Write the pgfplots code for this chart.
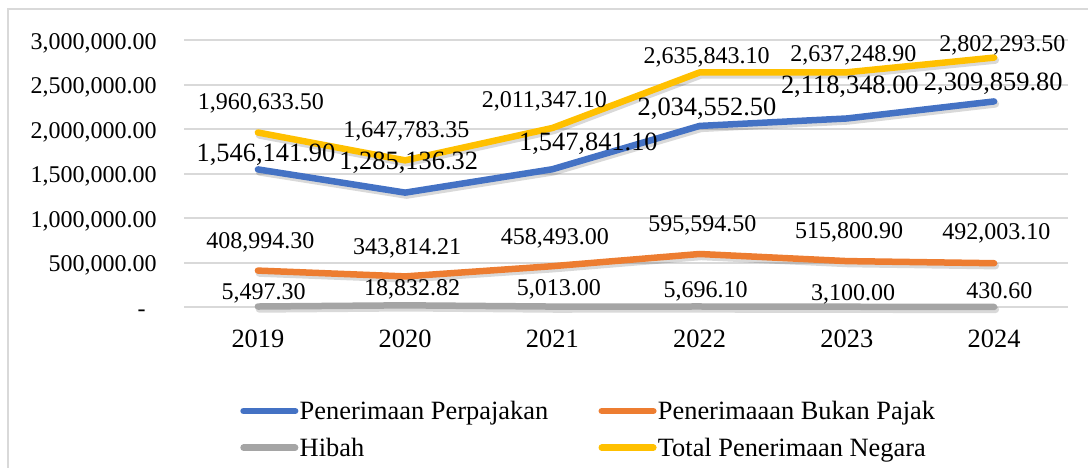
\documentclass[border=0pt]{standalone}
\usepackage{pgfplots}
\pgfplotsset{compat=1.18}
\usepackage{pgfplotstable}
\usepackage{fontspec}
\setmainfont{Liberation Serif}
\definecolor{cBlue}{HTML}{4472C4}
\definecolor{cOrange}{HTML}{ED7D31}
\definecolor{cGray}{HTML}{A5A5A5}
\definecolor{cGold}{HTML}{FFC000}
\definecolor{cGrid}{HTML}{D9D9D9}

\pgfplotstableread{
x y label dx dy
0 1546141.90 1,546,141.90 4.0 3.7
1 1285136.32 1,285,136.32 1.8 11.5
2 1547841.10 1,547,841.10 18.0 9.4
3 2034552.50 2,034,552.50 3.7 5.3
4 2118348.00 2,118,348.00 1.5 12.4
5 2309859.80 2,309,859.80 -0.4 5.5
}\tax

\pgfplotstableread{
x y label dx dy
0 408994.30 408,994.30 1.2 11.3
1 343814.21 343,814.21 1.0 10.9
2 458493.00 458,493.00 1.3 10.8
3 595594.50 595,594.50 1.4 11.4
4 515800.90 515,800.90 1.2 11.5
5 492003.10 492,003.10 1.2 11.8
}\nontax

\pgfplotstableread{
x y label dx dy
0 5497.30 5,497.30 2.8 3.5
1 18832.82 18,832.82 3.5 4.9
2 5013.00 5,013.00 3.3 5.5
3 5696.10 5,696.10 3.0 4.3
4 3100.00 3,100.00 3.2 3.2
5 430.60 430.60 2.7 4.2
}\hibah

\pgfplotstableread{
x y label dx dy
0 1960633.50 1,960,633.50 1.5 11.5
1 1647783.35 1,647,783.35 0.6 11.2
2 2011347.10 2,011,347.10 -4.0 10.3
3 2635843.10 2,635,843.10 3.5 4.7
4 2637248.90 2,637,248.90 3.3 5.2
5 2802293.50 2,802,293.50 4.2 3.2
}\total

\pgfplotsset{
  shadowline/.style={black, opacity=0.15, line width=3.6pt, line join=round, line cap=round, forget plot, xshift=0.7pt, yshift=-1.3pt},
  mainline/.style={#1, line width=3.25pt, line join=round, line cap=round, mark=none},
  lbl/.style={draw=none, forget plot, mark=none, point meta=explicit symbolic,
    visualization depends on={\thisrow{dx} \as \myDX},
    visualization depends on={\thisrow{dy} \as \myDY},
    nodes near coords,
    nodes near coords style={anchor=base, inner sep=0pt, xshift=\myDX pt, yshift=\myDY pt, text=black, font=#1}},
}

\begin{document}
\begin{tikzpicture}
\useasboundingbox (0,0) rectangle (544pt,233.5pt);
\draw[cGrid, line width=1pt] (4.2pt,-5pt) -- (4.2pt,229pt) -- (560pt,229pt);
\begin{axis}[
  at={(92.15pt,80pt)}, anchor=south west,
  scale only axis, width=441.7pt, height=133.5pt,
  xmin=-0.5, xmax=5.5, ymin=0, ymax=3000000,
  xtick={0,1,2,3,4,5}, xticklabels={2019,2020,2021,2022,2023,2024},
  ytick={0,500000,1000000,1500000,2000000,2500000,3000000},
  yticklabels={{-\kern5.5pt},{500,000.00},{1,000,000.00},{1,500,000.00},{2,000,000.00},{2,500,000.00},{3,000,000.00}},
  scaled y ticks=false,
  axis line style={draw=none},
  major tick length=0pt,
  ymajorgrids, grid style={cGrid, line width=1pt},
  xticklabel style={anchor=base, inner sep=0pt, yshift=-20pt, font=\fontsize{13.2}{15}\selectfont},
  yticklabel style={anchor=east, inner sep=0pt, xshift=-13.65pt, yshift=-1.4pt, text height=8pt, text depth=1.7pt, font=\fontsize{12}{14}\selectfont},
  clip=false,
  legend columns=2,
  legend style={
    at={(axis description cs:0.0634,-0.3457)}, anchor=north west,
    draw=none, fill=none, inner sep=0pt, outer sep=0pt,
    column sep=0.65pt, row sep=5.35pt,
    font=\fontsize{13.2}{15}\selectfont,
    cells={anchor=base west},
    nodes={inner sep=0pt, outer sep=0pt, text height=10pt, text depth=3pt, anchor=base west},
  },
  legend image code/.code={\draw[#1, line cap=round] (0pt,4.15pt) -- (25.8pt,4.15pt);},
]
\addplot[shadowline] table[x=x,y=y]{\tax};
\addplot[shadowline] table[x=x,y=y]{\nontax};
\addplot[shadowline] table[x=x,y=y]{\hibah};
\addplot[shadowline] table[x=x,y=y]{\total};

\addplot[mainline=cBlue] table[x=x,y=y]{\tax};
\addlegendentry{\makebox[148.75pt][l]{Penerimaan Perpajakan}}
\addplot[mainline=cOrange] table[x=x,y=y]{\nontax};
\addlegendentry{Penerimaaan Bukan Pajak}
\addplot[mainline=cGray] table[x=x,y=y]{\hibah};
\addlegendentry{\makebox[148.75pt][l]{Hibah}}
\addplot[mainline=cGold] table[x=x,y=y]{\total};
\addlegendentry{Total Penerimaan Negara}

\addplot[lbl={\fontsize{13.2}{15}\selectfont}] table[x=x,y=y,meta=label]{\tax};
\addplot[lbl={\fontsize{12}{14}\selectfont}] table[x=x,y=y,meta=label]{\nontax};
\addplot[lbl={\fontsize{12}{14}\selectfont}] table[x=x,y=y,meta=label]{\hibah};
\addplot[lbl={\fontsize{12}{14}\selectfont}] table[x=x,y=y,meta=label]{\total};
\end{axis}
\end{tikzpicture}
\end{document}
